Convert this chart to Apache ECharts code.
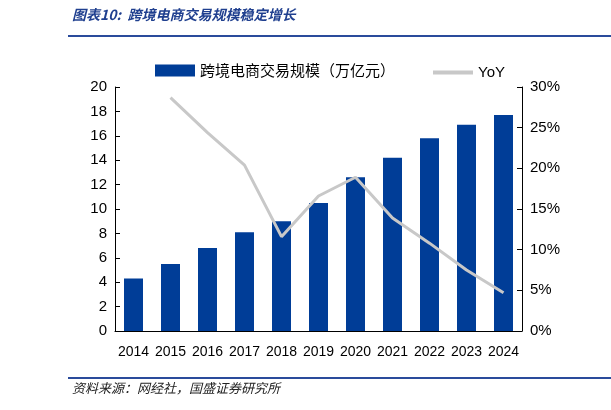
<!DOCTYPE html><html><head><meta charset="utf-8"><script src="https://cdn.jsdelivr.net/npm/echarts@6/dist/echarts.min.js"></script>
<style>body{margin:0;background:#fff}#c{width:611px;height:410px}</style></head><body><div id="c"></div><script>
const years=['2014','2015','2016','2017','2018','2019','2020','2021','2022','2023','2024'];
const scale=[4.3,5.5,6.8,8.1,9.0,10.5,12.6,14.2,15.8,16.9,17.7];
const yoy=[null,28.7,24.4,20.4,11.6,16.6,18.9,13.9,10.8,7.5,4.7];
const f='"Noto Sans CJK SC", sans-serif';
const ch=echarts.init(document.getElementById('c'));
ch.setOption({
 animation:false,
 graphic:[
  {type:'text',left:72,top:8,style:{text:'图表10:  跨境电商交易规模稳定增长',font:'italic bold 14px '+f,fill:'#1f3f8f'}},
  {type:'line',shape:{x1:68,y1:36,x2:611,y2:36},style:{stroke:'#2a4b9b',lineWidth:2}},
  {type:'line',shape:{x1:68,y1:378,x2:611,y2:378},style:{stroke:'#2a4b9b',lineWidth:2}},
  {type:'text',left:72,top:382,style:{text:'资料来源：网经社，国盛证券研究所',font:'italic 13px '+f,fill:'#222'}}
 ],
 legend:[{top:58,left:150,icon:'rect',itemWidth:40,itemHeight:12,textStyle:{fontSize:15,fontFamily:f,color:'#000'},data:['跨境电商交易规模（万亿元）']},
  {top:60,left:428,icon:'rect',itemWidth:40,itemHeight:4,textStyle:{fontSize:15,fontFamily:'Liberation Sans',color:'#000'},data:['YoY']}],
 grid:{left:115,right:89,top:87,bottom:79},
 xAxis:{type:'category',data:years,axisTick:{show:false},axisLine:{lineStyle:{color:'#000'}},axisLabel:{interval:0,color:'#000',fontSize:14,margin:14,fontFamily:'Liberation Sans'}},
 yAxis:[{type:'value',min:0,max:20,interval:2,splitLine:{show:false},axisLine:{show:true,lineStyle:{color:'#000'}},axisTick:{show:true,inside:true},axisLabel:{color:'#000',fontSize:15,fontFamily:'Liberation Sans'}},
  {type:'value',min:0,max:30,interval:5,splitLine:{show:false},axisLine:{show:true,lineStyle:{color:'#000'}},axisTick:{show:true,inside:true},axisLabel:{color:'#000',fontSize:15,formatter:'{value}%',fontFamily:'Liberation Sans'}}],
 series:[
  {name:'跨境电商交易规模（万亿元）',type:'bar',data:scale,barWidth:19,itemStyle:{color:'#003d97'}},
  {name:'YoY',type:'line',yAxisIndex:1,data:yoy,symbol:'none',lineStyle:{color:'#c8c8c8',width:3},itemStyle:{color:'#c8c8c8'}}
 ]
});
</script></body></html>
